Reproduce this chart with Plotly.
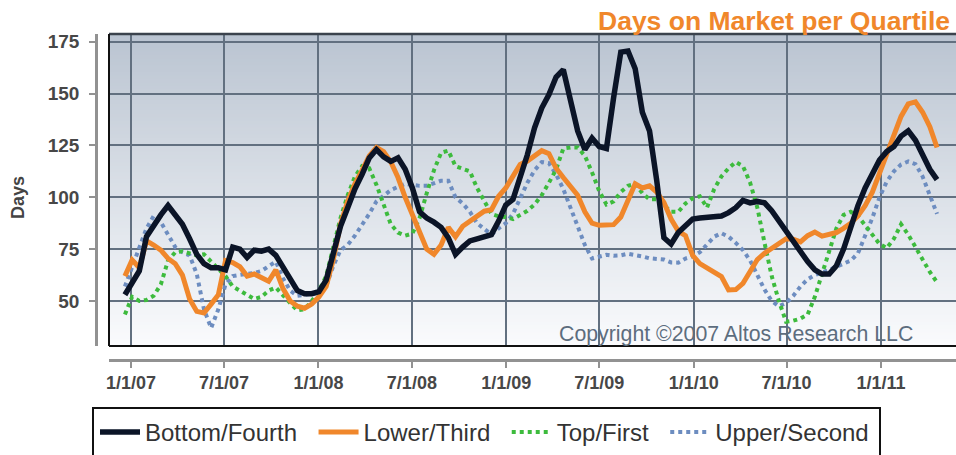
import pandas as pd
import plotly.graph_objects as go

# Bi-weekly observation dates
dates = pd.date_range("2006-12-20", periods=114, freq="14D")

# Days on market per quartile
bottom_fourth = [
    53, 59, 64.5, 81, 86.5, 91.5, 96, 91, 87, 80,
    72.5, 68, 66, 66, 65, 76, 75, 71, 74.5, 74,
    75, 72, 66, 60, 55, 53.5, 53.5, 54.5, 60, 73,
    86, 95, 104, 111, 119, 123, 119.5, 117.3, 119, 113.5,
    104.5, 93, 90, 88, 85.5, 80.5, 72.5, 76, 79, 80,
    80.8, 82, 88.5, 96.3, 99, 109, 120.5, 133.5, 143, 149.5,
    158, 161.5, 148, 132, 123, 128.5, 124.5, 123.5, 148, 170,
    170.5, 162, 141, 132, 108, 80.5, 77.5, 83, 86.3, 89.5,
    90, 90.5, 90.8, 91, 92.6, 95, 98.5, 97.3, 98, 97.3,
    93.5, 88.5, 84, 78.5, 73.5, 69, 65, 63, 63, 67,
    75, 86, 96, 104.5, 112, 118, 122, 124.5, 129.5, 132,
    127.5, 120, 113.5, 108.5,
]
lower_third = [
    62, 69.8, 66, 79, 77, 74.5, 70.5, 68, 62.5, 51,
    45, 44.2, 48.5, 53, 69.5, 68.5, 66.5, 62, 63, 61.5,
    59.5, 65, 56, 50, 47.5, 46.5, 48.5, 52, 57, 70,
    87, 98, 106.5, 113, 120, 124, 122, 117, 109.5, 100,
    91.5, 82.5, 75, 72.5, 77, 85.5, 81, 86, 88.5, 91,
    93.3, 94, 100.5, 104.5, 110, 115.8, 117.5, 120, 122.5, 121,
    114, 109.5, 105.5, 101, 93, 87.5, 86.5, 86.5, 86.8, 90.5,
    99, 106.5, 104.5, 105.5, 102.5, 97.5, 89.5, 83.7, 81.5, 72,
    68, 66, 64, 61.8, 55.3, 55.5, 58.5, 64, 70, 73,
    75.5, 77.5, 80, 79.8, 78.5, 81.5, 83.2, 81.3, 82, 83,
    85, 87.5, 91, 96, 102.5, 111.5, 122, 131, 139, 145,
    146, 141, 134, 124,
]
top_first = [
    43.5, 52, 50, 50.5, 52.5, 58, 69.5, 73.5, 74, 73,
    72, 72.5, 69, 66, 62, 57, 55, 53, 51, 52,
    55, 56.5, 52.5, 49, 45.5, 46, 50, 55, 62, 77,
    90, 101, 110, 115, 114, 106, 97, 87, 83, 81.5,
    82.5, 90, 102, 113, 121.5, 122.5, 115, 113.5, 112.5, 104.5,
    98, 92, 90.8, 90.5, 89.5, 91.5, 93.5, 96.5, 101, 107,
    113.4, 123.5, 124, 124, 120, 112, 103, 96.5, 98, 102.5,
    105.5, 106.5, 102, 99, 99, 96, 93, 93, 97, 99.5,
    100.5, 95, 104, 110, 114, 117, 115, 107, 95, 78,
    62, 50, 40, 40.5, 41.5, 43.5, 52, 63, 74, 85,
    91.5, 93, 91, 86.5, 81.5, 77.5, 75.5, 80, 87, 82,
    76, 70, 64, 59,
]
upper_second = [
    57, 66, 75, 85, 91, 88, 82, 76, 73.5, 72,
    63, 46, 37, 46, 58, 62, 62.6, 63, 63.5, 64.5,
    66.5, 69, 61, 55, 52.5, 53, 53.5, 54, 57, 67,
    74.5, 77, 81.5, 86.5, 92, 98, 101, 103.5, 105, 106.5,
    106, 105.5, 105.5, 107, 108, 108, 100, 97, 93, 87.5,
    84.5, 82, 85, 87.5, 92, 100, 107, 113, 117, 116.5,
    111, 104, 95, 86, 77, 70.5, 71.5, 72.3, 71.8, 72,
    72.8, 72.3, 71.5, 70.6, 70.4, 70, 68.6, 68.5, 70.5, 71.5,
    73.5, 77.5, 81, 82.7, 81, 78, 74.5, 69.5, 62.5, 55.5,
    50, 47.5, 49, 52.5, 57, 60.5, 62.5, 63.6, 65, 66.5,
    67.8, 69.5, 73, 81, 90, 100, 107.5, 112.5, 115.8, 117.3,
    116, 110, 101, 92,
]

tick_dates = ["2007-01-01", "2007-07-01", "2008-01-01", "2008-07-01", "2009-01-01",
              "2009-07-01", "2010-01-01", "2010-07-01", "2011-01-01"]
tick_labels = ["1/1/07", "7/1/07", "1/1/08", "7/1/08", "1/1/09",
               "7/1/09", "1/1/10", "7/1/10", "1/1/11"]
y_ticks = [50, 75, 100, 125, 150, 175]

FONT = "Liberation Sans, Arial, sans-serif"
W, H = 956, 455
ML, MR, MT, MB = 90, 0, 34, 90
PW, PH = W - ML - MR, H - MT - MB


def px_x(p):
    return (p - ML) / PW


def px_y(p):
    return (H - MB - p) / PH


# name, values, colour, width, dash, legend position
series = [
    ("Upper/Second", upper_second, "#6d8dc0", 4, "4px,4px", 4),
    ("Top/First", top_first, "#3dbb3d", 4, "4px,4px", 3),
    ("Lower/Third", lower_third, "#f0872b", 5, "solid", 2),
    ("Bottom/Fourth", bottom_fourth, "#0b1427", 5.5, "solid", 1),
]

fig = go.Figure()
for name, vals, color, width, dash, rank in series:
    fig.add_trace(go.Scatter(
        x=dates, y=vals, mode="lines", name=name + "\u00a0\u2009", legendrank=rank,
        line=dict(color=color, width=width, dash=dash),
        hoverinfo="skip",
    ))

# Vertical gradient behind the plot area
shapes = []
n_bands = 90
top_rgb = (186, 196, 209)
bot_rgb = (250, 251, 253)
for i in range(n_bands):
    t = (i + 0.5) / n_bands
    c = tuple(round(bot_rgb[j] + (top_rgb[j] - bot_rgb[j]) * t) for j in range(3))
    shapes.append(dict(
        type="rect", xref="x domain", yref="y domain",
        x0=0, x1=1, y0=i / n_bands, y1=min(1, (i + 1.6) / n_bands),
        fillcolor="rgb(%d,%d,%d)" % c, line=dict(width=0), layer="below",
    ))

# Plot frame
shapes += [
    dict(type="line", xref="x domain", yref="y domain", x0=0, x1=1, y0=1, y1=1,
         line=dict(color="#3b434d", width=2.5)),
    dict(type="line", xref="x domain", yref="y domain", x0=0, x1=0, y0=0, y1=1,
         line=dict(color="#111111", width=2)),
    dict(type="line", xref="x domain", yref="y domain", x0=0, x1=1, y0=0, y1=0,
         line=dict(color="#111111", width=2)),
]

# Legend frame
shapes.append(dict(
    type="rect", xref="paper", yref="paper",
    x0=px_x(93), x1=px_x(880), y0=px_y(408), y1=px_y(475),
    line=dict(color="#111111", width=2), fillcolor="rgba(0,0,0,0)",
))

fig.update_layout(
    width=W, height=H,
    margin=dict(l=ML, r=MR, t=MT, b=MB, pad=0),
    paper_bgcolor="white",
    plot_bgcolor="rgba(0,0,0,0)",
    font=dict(family=FONT),
    showlegend=True,
    shapes=shapes,
    xaxis=dict(
        type="date", range=["2006-11-19", "2011-05-27"],
        domain=[px_x(109), 1], anchor="free", position=px_y(360),
        tickvals=tick_dates, ticktext=tick_labels,
        showline=True, linecolor="#929292", linewidth=2.5,
        ticks="outside", ticklen=6, tickwidth=2, tickcolor="#929292",
        tickfont=dict(family=FONT, size=18, color="#474747", weight="bold"),
        showgrid=True, gridcolor="#627080", gridwidth=1.5, zeroline=False,
    ),
    yaxis=dict(
        range=[28.31, 178.71],
        domain=[px_y(346), 1], anchor="free", position=px_x(96),
        tickvals=y_ticks,
        showline=True, linecolor="#929292", linewidth=2.5,
        ticks="outside", ticklen=6, tickwidth=2, tickcolor="#929292",
        ticklabelstandoff=6,
        tickfont=dict(family=FONT, size=19, color="#474747", weight="bold"),
        showgrid=True, gridcolor="#627080", gridwidth=1.5, zeroline=False,
    ),
    legend=dict(
        orientation="h", x=px_x(95), xanchor="left", y=px_y(433), yanchor="middle",
        font=dict(family=FONT, size=24, color="#333333"),
        bgcolor="rgba(0,0,0,0)", borderwidth=0, itemwidth=40,
    ),
    annotations=[
        dict(text="Days on Market per Quartile", xref="paper", yref="paper",
             x=px_x(952), xanchor="right", y=px_y(21), yanchor="middle",
             showarrow=False,
             font=dict(family=FONT, size=26.5, color="#f0872b", weight="bold")),
        dict(text="Copyright ©2007 Altos Research LLC", xref="paper", yref="paper",
             x=px_x(915), xanchor="right", y=px_y(334), yanchor="middle",
             showarrow=False,
             font=dict(family=FONT, size=21.3, color="#5d6d7e")),
        dict(text="Days", xref="paper", yref="paper", textangle=-90,
             x=px_x(18), xanchor="center", y=px_y(198), yanchor="middle",
             showarrow=False,
             font=dict(family=FONT, size=18, color="#444444", weight="bold")),
    ],
)

fig.write_html("out.html")
